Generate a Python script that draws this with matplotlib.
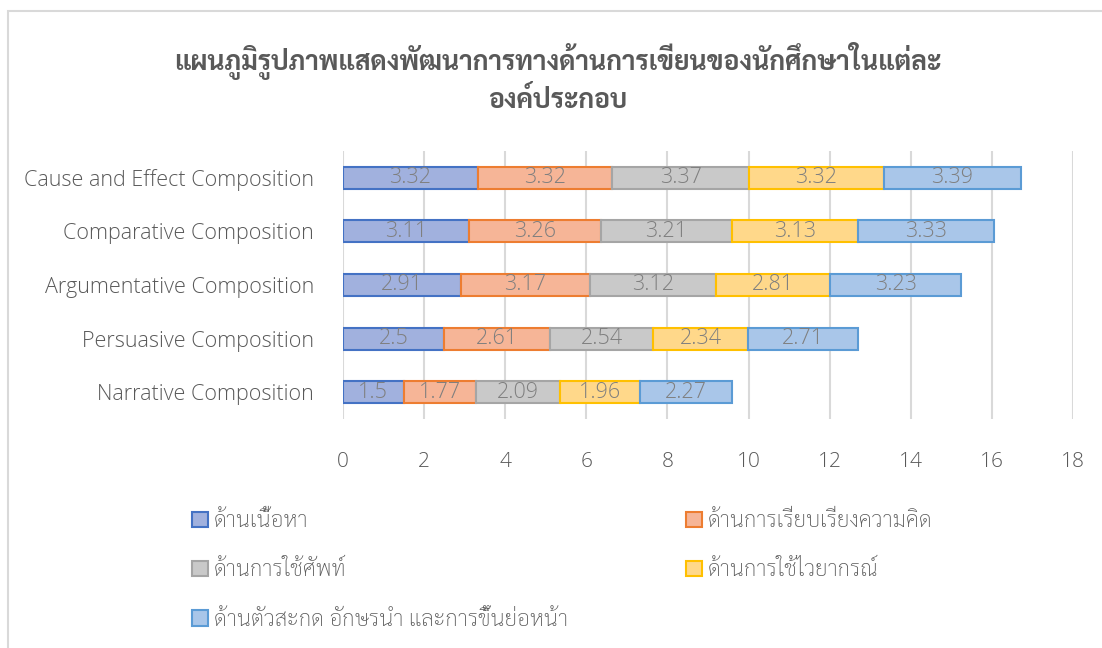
import matplotlib
matplotlib.use("Agg")
import matplotlib.pyplot as plt
from matplotlib.patches import Rectangle

categories = ["Narrative Composition", "Persuasive Composition",
              "Argumentative Composition", "Comparative Composition",
              "Cause and Effect Composition"]
series_names = ["ด้านเนื้อหา", "ด้านการเรียบเรียงความคิด", "ด้านการใช้ศัพท์",
                "ด้านการใช้ไวยากรณ์", "ด้านตัวสะกด อักษรนำ และการขึ้นย่อหน้า"]
content = [1.5, 2.5, 2.91, 3.11, 3.32]
organization = [1.77, 2.61, 3.17, 3.26, 3.32]
vocabulary = [2.09, 2.54, 3.12, 3.21, 3.37]
grammar = [1.96, 2.34, 2.81, 3.13, 3.32]
mechanics = [2.27, 2.71, 3.23, 3.33, 3.39]
xticks = [0, 2, 4, 6, 8, 10, 12, 14, 16, 18]
title = "แผนภูมิรูปภาพแสดงพัฒนาการทางด้านการเขียนของนักศึกษาในแต่ละ\nองค์ประกอบ"

series = [content, organization, vocabulary, grammar, mechanics]
fills = ["#a1b1de", "#f6b597", "#c9c9c9", "#ffd88a", "#a9c6e9"]
edges = ["#4472c4", "#ed7d31", "#a5a5a5", "#ffc000", "#5b9bd5"]

LATIN = ["Open Sans", "DejaVu Sans"]
THAI = ["Sarabun", "DejaVu Sans"]
GREY = "#595959"

W, H = 1102, 648
fig = plt.figure(figsize=(W / 100, H / 100), dpi=100)
ax = fig.add_axes([343 / W, 1 - 419 / H, 730 / W, 268 / H])

# chart frame (left and top edges visible)
fig.patches.append(Rectangle((8 / W, -0.1), 1.2, 1.1 - 11 / H, transform=fig.transFigure,
                             fill=False, edgecolor="#d9d9d9", linewidth=1.5, zorder=0))

y = range(len(categories))
left = [0] * len(categories)
handles = []
for vals, name, fc, ec in zip(series, series_names, fills, edges):
    bars = ax.barh(y, vals, left=left, height=0.41, color=fc, edgecolor=ec,
                   linewidth=1.5, label=name, zorder=3)
    ax.bar_label(bars, labels=[f"{v:g}" for v in vals], label_type="center",
                 color="#7f7f7f", fontsize=15.5, family=LATIN, fontweight="light")
    handles.append(bars)
    left = [a + b for a, b in zip(left, vals)]

ax.set_xlim(0, 18)
ax.set_ylim(-0.5, len(categories) - 0.5)
ax.set_xticks(xticks)
ax.set_yticks(list(y))
ax.set_yticklabels(categories)
ax.grid(axis="x", color="#d9d9d9", linewidth=1.5, zorder=0)
ax.set_axisbelow(True)
for s in ax.spines.values():
    s.set_visible(False)
ax.tick_params(axis="both", length=0, labelsize=15, labelcolor=GREY)
ax.tick_params(axis="x", pad=24)
ax.tick_params(axis="y", pad=21)
for t in ax.get_xticklabels():
    t.set_family(LATIN)
    t.set_fontweight("light")
for t in ax.get_yticklabels():
    t.set_family(LATIN)
    t.set_fontweight("light")
    t.set_fontsize(15.5)

fig.text(558 / W, 1 - 78 / H, title, ha="center", va="center", fontsize=19,
         fontweight="bold", color=GREY, family=THAI, linespacing=1.3)

order = [0, 2, 4, 1, 3]
leg = fig.legend([handles[i] for i in order], [series_names[i] for i in order],
                 ncol=2, loc="upper left", bbox_to_anchor=(172 / W, 1 - 491 / H),
                 frameon=False, handlelength=0.7, handleheight=0.7, handletextpad=0.3,
                 columnspacing=5.3, labelspacing=1.27,
                 prop={"family": THAI, "size": 16, "weight": "light"})
for t in leg.get_texts():
    t.set_color(GREY)

fig.savefig("out.png", dpi=100)
